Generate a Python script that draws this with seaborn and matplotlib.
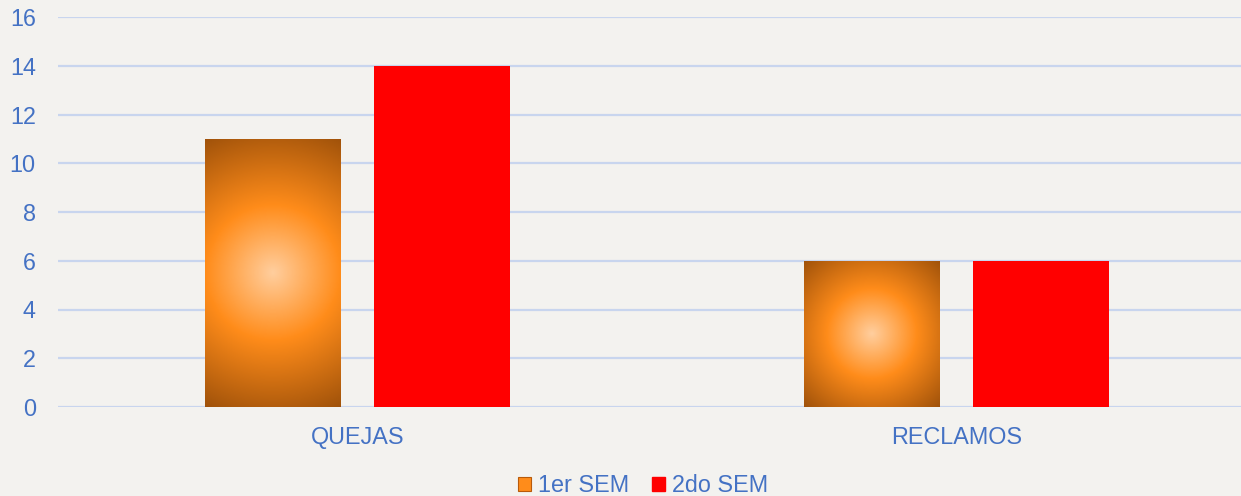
import numpy as np
import pandas as pd
import matplotlib
matplotlib.use("Agg")
import matplotlib.pyplot as plt
import seaborn as sns
from matplotlib.patches import Patch
from matplotlib.colors import LinearSegmentedColormap

categories = ["QUEJAS", "RECLAMOS"]
series_names = ["1er SEM", "2do SEM"]
values_1er = [11, 6]
values_2do = [14, 6]
y_ticks = [0, 2, 4, 6, 8, 10, 12, 14, 16]

df = pd.DataFrame({
    "categoria": categories * 2,
    "serie": [series_names[0]] * len(categories) + [series_names[1]] * len(categories),
    "valor": values_1er + values_2do,
})

sns.set_theme(style="white")
plt.rcParams["font.family"] = ["Liberation Sans", "DejaVu Sans"]

BG = "#F3F2EF"
BLUE = "#4472C4"
GRID = "#C8D5EE"
ORANGE = "#FF8C1A"
RED = "#FF0000"
FS = 16.8

fig = plt.figure(figsize=(12.41, 4.96), dpi=100)
fig.patch.set_facecolor(BG)
ax = fig.add_axes([58 / 1241, (496 - 407) / 496, 1198 / 1241, (407 - 17) / 496])
ax.set_facecolor(BG)

sns.barplot(data=df, x="categoria", y="valor", hue="serie",
            palette=[ORANGE, RED], width=0.567, gap=0.2, ax=ax,
            legend=False, saturation=1, edgecolor="none", linewidth=0)

ax.set_xlim(-0.5, 1.5)
ax.set_ylim(0, 16)
ax.set_yticks(y_ticks)
ax.set_yticklabels([str(t) for t in y_ticks])
ax.yaxis.grid(True, color=GRID, linewidth=1.6)
ax.set_axisbelow(True)
for s in ax.spines.values():
    s.set_visible(False)
ax.tick_params(axis="y", length=0, pad=16, labelsize=FS, labelcolor=BLUE)
ax.tick_params(axis="x", length=0, pad=14, labelsize=FS, labelcolor=BLUE)
ax.set_xlabel("")
ax.set_ylabel("")

# radial gradient on first series bars
cmap = LinearSegmentedColormap.from_list(
    "rad", [(0.0, "#FFCE9E"), (0.45, "#FF8C1A"), (1.0, "#A0520A")])
fig.canvas.draw()
n = len(categories)
for patch in ax.patches[:n]:
    x0, y0 = patch.get_x(), patch.get_y()
    w, h = patch.get_width(), patch.get_height()
    p0 = ax.transData.transform((x0, y0))
    p1 = ax.transData.transform((x0 + w, y0 + h))
    wp, hp = abs(p1[0] - p0[0]), abs(p1[1] - p0[1])
    nx, ny = 200, 200
    xs = (np.linspace(0, 1, nx) - 0.5) * wp
    ys = (np.linspace(0, 1, ny) - 0.5) * hp
    X, Y = np.meshgrid(xs, ys)
    d = np.sqrt(X ** 2 + Y ** 2) / np.sqrt((wp / 2) ** 2 + (hp / 2) ** 2)
    im = ax.imshow(d, cmap=cmap, vmin=0, vmax=1, extent=[x0, x0 + w, y0, y0 + h],
                   aspect="auto", origin="lower", zorder=patch.get_zorder() + 0.1,
                   interpolation="bilinear")
    im.set_clip_path(patch)
ax.set_xlim(-0.5, 1.5)
ax.set_ylim(0, 16)

handles = [Patch(facecolor=ORANGE, edgecolor="#B85A0A", linewidth=0.8, label=series_names[0]),
           Patch(facecolor=RED, edgecolor=RED, label=series_names[1])]
leg = fig.legend(handles=handles, loc="center", bbox_to_anchor=(643 / 1241, 1 - 486 / 496),
                 ncol=2, frameon=False, fontsize=FS, handlelength=0.55, handleheight=0.55,
                 handletextpad=0.3, columnspacing=1.0, borderpad=0)
for t in leg.get_texts():
    t.set_color(BLUE)

fig.savefig("out.png", dpi=100, facecolor=BG)
